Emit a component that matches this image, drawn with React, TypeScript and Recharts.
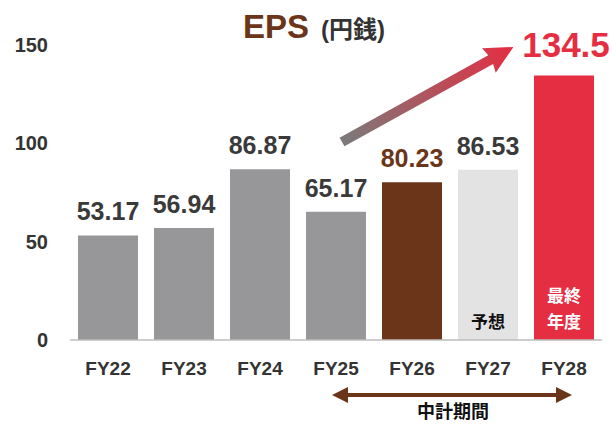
import React from 'react';
import { BarChart, Bar, XAxis, YAxis, Cell, LabelList } from 'recharts';

const categories = ['FY22', 'FY23', 'FY24', 'FY25', 'FY26', 'FY27', 'FY28'];
const eps = [53.17, 56.94, 86.87, 65.17, 80.23, 86.53, 134.5];
const notes = ['', '', '', '', '', '予想', '最終\n年度'];
const yTicks = [0, 50, 100, 150];

const barColors = ['#979699', '#979699', '#979699', '#979699', '#6b3519', '#e3e3e3', '#e52e42'];
const labelColors = ['#3a3a3a', '#3a3a3a', '#3a3a3a', '#3a3a3a', '#6b3519', '#3a3a3a', '#e52e42'];
const noteColors = ['', '', '', '', '', '#111', '#fff'];

const data = categories.map((fy, i) => ({ fy, eps: eps[i], note: notes[i] }));

const FONT = "'Liberation Sans', 'Noto Sans CJK JP', sans-serif";
const BROWN = '#6b3519';

function ValueLabel(props: any) {
  const { x, y, width, value, index } = props;
  const last = index === eps.length - 1;
  return (
    <text
      x={x + width / 2 + (last ? 2 : 0)}
      y={y - (last ? 18 : 15)}
      textAnchor="middle"
      fill={labelColors[index]}
      fontSize={last ? 35 : 25}
      fontWeight="bold"
      fontFamily={FONT}
    >
      {value}
    </text>
  );
}

function NoteLabel(props: any) {
  const { x, y, width, height, value, index } = props;
  if (!value) return null;
  const lines = String(value).split('\n');
  const bottom = y + height;
  return (
    <text textAnchor="middle" fill={noteColors[index]} fontSize={17} fontWeight="bold" fontFamily={FONT}>
      {lines.map((l, k) => (
        <tspan key={k} x={x + width / 2} y={bottom - 12 - (lines.length - 1 - k) * 26}>
          {l}
        </tspan>
      ))}
    </text>
  );
}

export default function App() {
  return (
    <div style={{ position: 'absolute', left: 0, top: 0, width: 612, height: 424, background: '#fff', fontFamily: FONT }}>
      <BarChart
        width={612}
        height={424}
        data={data}
        margin={{ top: 45, right: 10, bottom: 54, left: 0 }}
        barSize={60}
      >
        <XAxis
          dataKey="fy"
          height={30}
          axisLine={{ stroke: '#bdbdbd', strokeWidth: 1.5 }}
          tickLine={false}
          tickMargin={16}
          tick={{ fill: '#333', fontSize: 19, fontWeight: 'bold', fontFamily: FONT }}
        />
        <YAxis
          width={70}
          domain={[0, 150]}
          ticks={yTicks}
          axisLine={false}
          tickLine={false}
          tickSize={0}
          tickMargin={22}
          tick={{ fill: '#333', fontSize: 20, fontWeight: 'bold', fontFamily: FONT }}
        />
        <Bar dataKey="eps" isAnimationActive={false}>
          {data.map((d, i) => (
            <Cell key={d.fy} fill={barColors[i]} />
          ))}
          <LabelList dataKey="eps" content={ValueLabel} />
          <LabelList dataKey="note" content={NoteLabel} />
        </Bar>
      </BarChart>

      <svg width={612} height={424} style={{ position: 'absolute', left: 0, top: 0, pointerEvents: 'none' }}>
        <defs>
          <linearGradient id="upArrow" x1="0" y1="0" x2="1" y2="0">
            <stop offset="0%" stopColor="#7a7a7a" />
            <stop offset="100%" stopColor="#e52e42" />
          </linearGradient>
        </defs>
        <text x={314} y={38} textAnchor="middle" fontFamily={FONT} fontWeight="bold">
          <tspan fill={BROWN} fontSize={33}>EPS</tspan>
          <tspan fill="#333" fontSize={24} dx={12}>(円銭)</tspan>
        </text>
        <g transform="translate(342,142) rotate(-29)">
          <path d="M0,-5 L170,-5 L168,-14 L196,0 L168,14 L170,5 L0,5 Z" fill="url(#upArrow)" />
        </g>
        <path
          d="M332,395 L348,387 L348,393 L556,393 L556,387 L572,395 L556,403 L556,397 L348,397 L348,403 Z"
          fill={BROWN}
        />
        <text x={453} y={418} textAnchor="middle" fill="#111" fontSize={18} fontWeight="bold" fontFamily={FONT}>
          中計期間
        </text>
      </svg>
    </div>
  );
}
